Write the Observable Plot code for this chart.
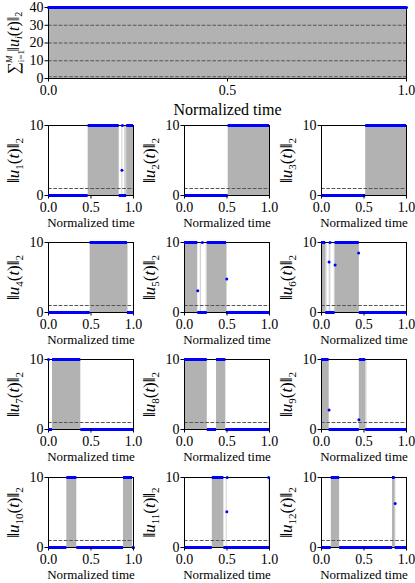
<!DOCTYPE html>
<html><head><meta charset="utf-8">
<script src="https://cdn.jsdelivr.net/npm/d3@7"></script>
<script src="https://cdn.jsdelivr.net/npm/@observablehq/plot@0.6"></script>
<style>
body{margin:0;background:#fff;}
#root{position:relative;width:415px;height:583px;overflow:hidden;background:#fff;}
#root > svg{position:absolute;}
</style></head><body><div id="root"></div>
<script>
// ---------- data ----------
const xTicks = [0, 0.5, 1];
const xTickLabels = ["0.0", "0.5", "1.0"];
const topYTicks = [0, 10, 20, 30, 40];
const smallYTicks = [0, 10];
const xLabel = "Normalized time";
const topLabel = "∑ᵢ₌₁ᴹ ‖uᵢ(t)‖₂";
const topTime = [0, 1];
const topSum = [40, 40];
const topDashed = [1, 10, 20, 30];
const threshold = [1];
const panelIndex = ["1","2","3","4","5","6","7","8","9","10","11","12"];
const panelLabels = ["‖u₁(t)‖₂","‖u₂(t)‖₂","‖u₃(t)‖₂","‖u₄(t)‖₂","‖u₅(t)‖₂","‖u₆(t)‖₂",
                     "‖u₇(t)‖₂","‖u₈(t)‖₂","‖u₉(t)‖₂","‖u₁₀(t)‖₂","‖u₁₁(t)‖₂","‖u₁₂(t)‖₂"];
// intervals [start, end] where ||u_i|| = 10 (max)
const u1On = [[0.467, 0.832], [0.92, 1]];
const u2On = [[0.514, 1]];
const u3On = [[0.52, 1]];
const u4On = [[0.49, 0.929]];
const u5On = [[0, 0.156], [0.268, 0.494]];
const u6On = [[0, 0.05], [0.16, 0.445]];
const u7On = [[0.047, 0.38]];
const u8On = [[0, 0.268], [0.377, 0.486]];
const u9On = [[0, 0.089], [0.445, 0.52]];
const u10On = [[0.216, 0.333], [0.882, 0.99]];
const u11On = [[0.327, 0.463]];
const u12On = [[0.115, 0.213], [0.835, 0.867]];
// thin transition slivers (lighter fill)
const u1Edge = [[0.862, 0.874], [0.895, 0.92]];
const u4Edge = [[0.929, 0.94]];
const u5Edge = [[0.185, 0.2], [0.255, 0.268], [0.494, 0.505]];
const u6Edge = [[0.05, 0.065], [0.09, 0.11], [0.15, 0.16]];
const u9Edge = [[0.07, 0.089], [0.52, 0.535]];
const u11Edge = [[0.49, 0.502], [0.99, 1]];
const u12Edge = [[0.867, 0.875]];
// isolated samples [t, value]
const u1Mid = [[0.864, 3.6], [0.87, 10]];
const u5Mid = [[0.156, 3.1], [0.21, 10], [0.497, 4.8]];
const u6Mid = [[0.089, 7.2], [0.1, 10], [0.16, 6.8], [0.437, 8.5]];
const u7Mid = [[0, 10]];
const u9Mid = [[0.089, 2.8], [0.44, 1.4]];
const u10Mid = [[1, 0]];
const u11Mid = [[0.498, 5.1], [0.502, 10], [0.99, 10]];
const u12Mid = [[0.867, 6.3]];

const panelOn = [u1On,u2On,u3On,u4On,u5On,u6On,u7On,u8On,u9On,u10On,u11On,u12On];
const panelEdge = [u1Edge,[],[],u4Edge,u5Edge,u6Edge,[],[],u9Edge,[],u11Edge,u12Edge];
const panelMid = [u1Mid,[],[],[],u5Mid,u6Mid,u7Mid,[],u9Mid,u10Mid,u11Mid,u12Mid];

// ---------- drawing ----------
const root = document.getElementById("root");
const GRAY = "#b2b2b2", LIGHT = "#d4d4d4", BLUE = "#0000ff", DASH = "#555";
const FONT = "Liberation Serif";

function complement(iv) {
  const s = [...iv].sort((a, b) => a[0] - b[0]);
  const out = []; let cur = 0;
  for (const [a, b] of s) { if (a > cur) out.push([cur, a]); cur = Math.max(cur, b); }
  if (cur < 1) out.push([cur, 1]);
  return out;
}

function place(svg, left, top) {
  svg.style.left = left + "px";
  svg.style.top = top + "px";
  root.appendChild(svg);
}

// rebuild a plain label as math-like tspans (still real text)
function mathify(svg, plain, parts) {
  d3.select(svg).selectAll("text").filter(function () { return this.textContent === plain; }).each(function () {
    const t = d3.select(this);
    t.text(null);
    for (const p of parts) {
      const s = t.append("tspan").text(p.t);
      s.attr("font-style", p.it ? "italic" : "normal");
      if (p.size) s.attr("font-size", p.size);
      if (p.dy) s.attr("dy", p.dy);
      if (p.dx) s.attr("dx", p.dx);
    }
  });
}

const styleObj = {fontFamily: FONT, fontSize: "14px", fontWeight: "normal", background: "transparent", overflow: "visible"};

// top panel
{
  const pts = topTime.map((t, i) => ({t, v: topSum[i]}));
  const svg = Plot.plot({
    width: 415, height: 115,
    marginLeft: 48, marginRight: 9, marginTop: 7, marginBottom: 37,
    style: styleObj,
    x: {domain: [0, 1]},
    y: {domain: [0, 40]},
    marks: [
      Plot.areaY(pts, {x: "t", y: "v", fill: GRAY}),
      Plot.ruleY(topDashed, {stroke: DASH, strokeDasharray: "3.7,1.6", strokeWidth: 1}),
      Plot.frame({stroke: "#000", strokeWidth: 1}),
      Plot.lineY(pts, {x: "t", y: "v", stroke: BLUE, strokeWidth: 3}),
      Plot.axisX({ticks: xTicks, tickFormat: (d, i) => xTickLabels[i], tickSize: 3.5, tickPadding: 3, label: null, stroke: "#000", fontFamily: FONT}),
      Plot.axisY({ticks: topYTicks, tickSize: 3.5, tickPadding: 1.5, label: null, stroke: "#000", fontFamily: FONT}),
      Plot.text([xLabel], {text: d => d, frameAnchor: "bottom", lineAnchor: "middle", dy: 31, fontSize: 16, fontFamily: FONT, fontWeight: "normal"}),
      Plot.text([topLabel], {text: d => d, frameAnchor: "left", textAnchor: "middle", lineAnchor: "middle", rotate: -90, dx: -35, dy: 0, fontSize: 16, fontFamily: FONT, fontWeight: "normal"})
    ]
  });
  mathify(svg, topLabel, [
    {t: "∑", size: 17},
    {t: "i=1", size: 9, dy: 5},
    {t: "M", size: 9, it: true, dx: -13, dy: -12},
    {t: " ‖", dy: 7},
    {t: "u", it: true},
    {t: "i", it: true, size: 10, dy: 3},
    {t: "(", dy: -3},
    {t: "t", it: true},
    {t: ")‖"},
    {t: "2", size: 10, dy: 3}
  ]);
  place(svg, 0, 0);
}

const colLeft = [0, 136, 273];
const rowTop = [117, 234, 351, 469];
panelLabels.forEach((label, k) => {
  const on = panelOn[k], edge = panelEdge[k], mid = panelMid[k];
  const off = complement(on);
  const svg = Plot.plot({
    width: 140, height: 116,
    marginLeft: 48, marginRight: 7, marginTop: 8, marginBottom: 38,
    style: styleObj,
    x: {domain: [0, 1]},
    y: {domain: [0, 10]},
    marks: [
      Plot.rectY(edge, {x1: d => d[0], x2: d => d[1], y1: 0, y2: 10, fill: LIGHT}),
      Plot.rectY(on, {x1: d => d[0], x2: d => d[1], y1: 0, y2: 10, fill: GRAY}),
      Plot.ruleY(threshold, {stroke: DASH, strokeDasharray: "3.7,1.6", strokeWidth: 1}),
      Plot.frame({stroke: "#000", strokeWidth: 1}),
      Plot.ruleY(on, {y: 10, x1: d => d[0], x2: d => d[1], stroke: BLUE, strokeWidth: 3}),
      Plot.ruleY(off, {y: 0, x1: d => d[0], x2: d => d[1], stroke: BLUE, strokeWidth: 3}),
      Plot.dot(mid, {x: d => d[0], y: d => d[1], r: 1.5, fill: BLUE, stroke: null}),
      Plot.axisX({ticks: xTicks, tickFormat: (d, i) => xTickLabels[i], tickSize: 3.5, tickPadding: 3, label: null, stroke: "#000", fontFamily: FONT}),
      Plot.axisY({ticks: smallYTicks, tickSize: 3.5, tickPadding: 1.5, label: null, stroke: "#000", fontFamily: FONT}),
      Plot.text([xLabel], {text: d => d, frameAnchor: "bottom", lineAnchor: "middle", dy: 27.5, fontSize: 13, fontFamily: FONT, fontWeight: "normal"}),
      Plot.text([label], {text: d => d, frameAnchor: "left", textAnchor: "middle", lineAnchor: "middle", rotate: -90, dx: -35, fontSize: 17, fontFamily: FONT, fontWeight: "normal"})
    ]
  });
  mathify(svg, label, [
    {t: "‖"},
    {t: "u", it: true},
    {t: panelIndex[k], size: 11, dy: 4},
    {t: "(", dy: -4},
    {t: "t", it: true},
    {t: ")‖"},
    {t: "2", size: 11, dy: 4}
  ]);
  place(svg, colLeft[k % 3], rowTop[Math.floor(k / 3)]);
});
</script></body></html>
